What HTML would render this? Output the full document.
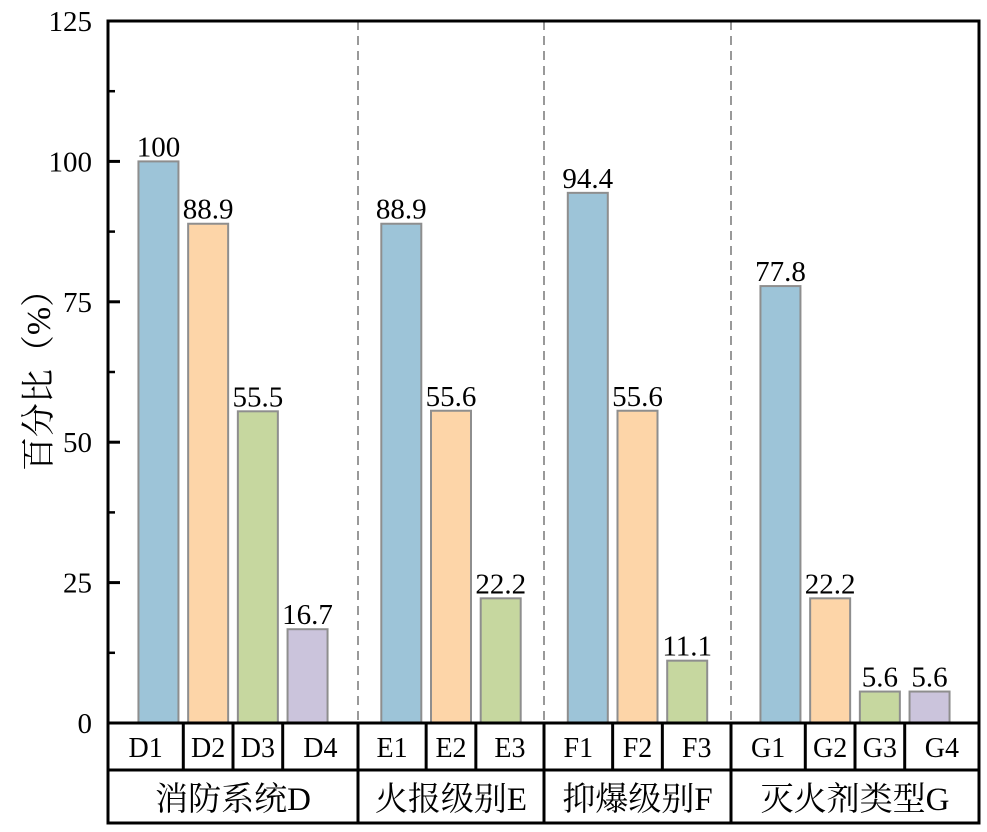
<!DOCTYPE html>
<html><head><meta charset="utf-8"><style>
body{margin:0;background:#fff;}
svg text{font-family:"Liberation Serif","Noto Serif CJK SC",serif;fill:#000;}
</style></head><body>
<svg id="chart" width="987" height="827" xmlns="http://www.w3.org/2000/svg"></svg>
<script>
const groupNames=["消防系统D","火报级别E","抑爆级别F","灭火剂类型G"];
const categories=[["D1","D2","D3","D4"],["E1","E2","E3"],["F1","F2","F3"],["G1","G2","G3","G4"]];
const values=[[100,88.9,55.5,16.7],[88.9,55.6,22.2],[94.4,55.6,11.1],[77.8,22.2,5.6,5.6]];
const labels=[["100","88.9","55.5","16.7"],["88.9","55.6","22.2"],["94.4","55.6","11.1"],["77.8","22.2","5.6","5.6"]];
const yTicks=[0,25,50,75,100,125];
const colors=["#9dc4d8","#fdd5a8","#c6d79f","#cbc4dc"];
const L=108,R=979,T=21,B=723,yMax=125;
const groupEdges=[L,358,544,731,R];
const step=49.7,bw=40;
const svg=document.getElementById('chart');
const NS="http://www.w3.org/2000/svg";
function y(v){return B-(v/yMax)*(B-T);}
function el(t,a,p){const e=document.createElementNS(NS,t);for(const k in a)e.setAttribute(k,a[k]);(p||svg).appendChild(e);return e;}
function txt(x,yy,s,size,extra){const e=el('text',Object.assign({x:x,y:yy,'text-anchor':'middle',style:'font-size:'+size+'px'},extra||{}));e.textContent=s;return e;}
function barX(g,i){const n=categories[g].length;const c=(groupEdges[g]+groupEdges[g+1])/2;return c+(i-(n-1)/2)*step;}
for(let g=1;g<groupNames.length;g++){const s=el('line',{x1:groupEdges[g],x2:groupEdges[g],y1:T,y2:B,stroke:'#999','stroke-width':2,'stroke-dasharray':'9,6'});

}
categories.forEach((cats,g)=>{cats.forEach((c,i)=>{const cx=barX(g,i);const v=values[g][i];
const r=el('rect',{x:cx-bw/2,y:y(v),width:bw,height:B-y(v),fill:colors[i],stroke:'#8e8e8e','stroke-width':2});


const t=txt(cx,y(v)-5,labels[g][i],29);


});});
yTicks.forEach((v,k)=>{const t=txt(92,y(v)+10,String(v),29,{'text-anchor':'end'});


if(v>0&&v<yMax)el('line',{x1:L,x2:L+12,y1:y(v),y2:y(v),stroke:'#000','stroke-width':3});
if(k<yTicks.length-1){const m=(v+yTicks[k+1])/2;el('line',{x1:L,x2:L+7,y1:y(m),y2:y(m),stroke:'#000','stroke-width':2.5});}
});
el('rect',{x:L,y:T,width:R-L,height:B-T,fill:'none',stroke:'#000','stroke-width':3});
const t1=770,t2=823;
el('rect',{x:L,y:B,width:R-L,height:t2-B,fill:'none',stroke:'#000','stroke-width':3});
el('line',{x1:L,x2:R,y1:t1,y2:t1,stroke:'#000','stroke-width':3});
categories.forEach((cats,g)=>{
 if(g>0)el('line',{x1:groupEdges[g],x2:groupEdges[g],y1:B,y2:t2,stroke:'#000','stroke-width':3});
 cats.forEach((c,i)=>{const cx=barX(g,i);
  if(i>0){const bx=(barX(g,i-1)+cx)/2;el('line',{x1:bx,x2:bx,y1:B,y2:t1,stroke:'#000','stroke-width':3});}
  const lx=i==0?(groupEdges[g]+(barX(g,0)+barX(g,1))/2)/2:(i==cats.length-1?((barX(g,i-1)+cx)/2+groupEdges[g+1])/2:cx);
  const t=txt(lx,757,c,28);
  
  
 });
 const gt=txt((groupEdges[g]+groupEdges[g+1])/2,810,groupNames[g],33);
 
 
});
const yl=txt(0,0,'百分比（%）',34,{transform:'translate(50,372) rotate(-90)'});


</script>
</body></html>
